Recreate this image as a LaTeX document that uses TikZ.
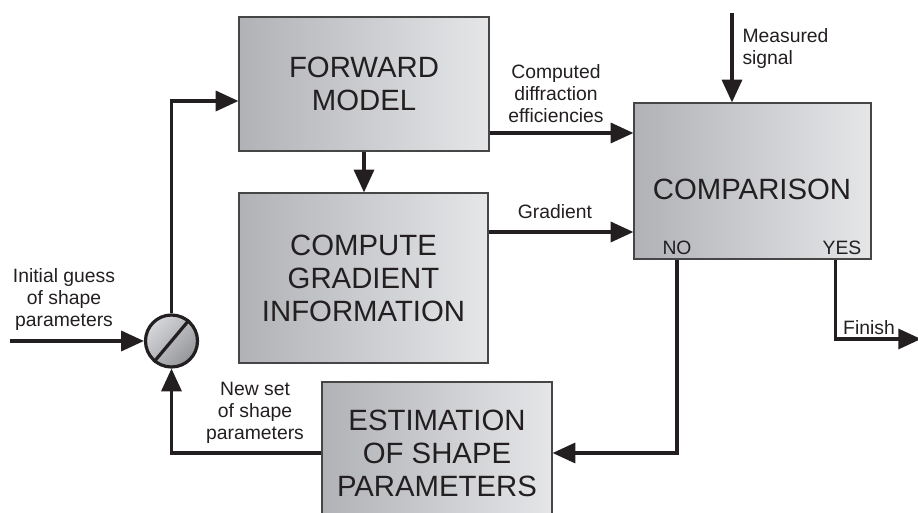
\documentclass[tikz,border=0pt]{standalone}
\usepackage{fontspec}
\setmainfont{Liberation Sans}
\usetikzlibrary{arrows.meta}

\definecolor{boxLeft}{RGB}{176,178,182}
\definecolor{boxRight}{RGB}{229,230,232}
\definecolor{swLight}{RGB}{214,215,218}
\definecolor{swDark}{RGB}{148,150,154}
\definecolor{boxLine}{RGB}{70,70,70}
\definecolor{ink}{RGB}{35,31,32}

\tikzset{every picture/.style={line width=0.75pt}}
\tikzset{
  block/.style={draw=boxLine, line width=0.9pt, left color=boxLeft, right color=boxRight, inner sep=0pt, align=center, text=ink, font=\fontsize{22}{24.75}\selectfont},
  blocktext/.style={inner sep=0pt, align=center, text=ink, font=\fontsize{22}{24.75}\selectfont},
  lbl/.style={inner sep=0.75pt, align=center, text=ink, font=\fontsize{14.5}{16.5}\selectfont},
  flow/.style={draw=ink, line width=2.4pt, -{Triangle[length=17pt,width=15pt]}},
  wire/.style={draw=ink, line width=2.4pt},
}

\begin{document}
\begin{tikzpicture}[x=0.75pt,y=0.75pt,yscale=-1,xscale=1]
\useasboundingbox (0,0) rectangle (918,513);

%Shape: Rectangle [forward model]
\node[block, minimum width=187.5pt, minimum height=100.5pt] (fwd) at (364,84) {FORWARD\\MODEL};
%Shape: Rectangle [gradient]
\node[block, minimum width=186.75pt, minimum height=127.5pt] (grad) at (363.5,278) {COMPUTE\\GRADIENT\\INFORMATION};
%Shape: Rectangle [comparison]
\node[block, minimum width=177.75pt, minimum height=117pt] (comp) at (752.5,181) {};
\node[blocktext] (compText) at (752,189) {COMPARISON};
%Shape: Rectangle [estimation]
\node[block, minimum width=172.5pt, minimum height=106.5pt] (est) at (437,453) {ESTIMATION\\OF SHAPE\\PARAMETERS};

%Shape: Circle [switch]
\node[circle, draw=ink, line width=2.4pt, minimum size=39pt, inner sep=0pt, top color=swLight, bottom color=swDark, shading angle=45] (sw) at (171.5,341) {};
\draw[wire] (sw.230) -- (sw.50);

%Shape: Boxed Line [connectors]
\coordinate (init) at (10,341);
\draw[flow] (init) -- (sw);
\draw[flow] (sw.north) |- (fwd.west |- 0,101);
\draw[flow] (fwd.south) -- (fwd.south |- grad.north);
\draw[flow] (fwd.east |- 0,133) -- (comp.west |- 0,133);
\draw[flow] (grad.east |- 0,232) -- (comp.west |- 0,232);
\coordinate (meas) at (732,13);
\draw[flow] (meas) -- (meas |- comp.north);
\draw[flow] (comp.south -| 677,0) |- (est.east);
\coordinate (done) at (921,339);
\draw[flow] (comp.south -| 835.5,0) |- (done);
\draw[flow] (est.west) -| (sw.south);

% Text Node
\node[lbl] (cdeLbl) at (556,94) {Computed\\diffraction\\efficiencies};
% Text Node
\node[lbl] (gradLbl) at (555,212) {Gradient};
% Text Node
\node[lbl, anchor=north west, align=left] (measLbl) at (741,27) {Measured\\signal};
% Text Node
\node[lbl] (initLbl) at (64,300) {Initial guess\\of shape\\parameters};
% Text Node
\node[lbl] (newLbl) at (255,413) {New set\\of shape\\parameters};
% Text Node
\node[lbl] (finLbl) at (869,328) {Finish};
% Text Node
\node[lbl] (noLbl) at (677,248) {NO};
% Text Node
\node[lbl] (yesLbl) at (842,248) {YES};

\end{tikzpicture}
\end{document}
